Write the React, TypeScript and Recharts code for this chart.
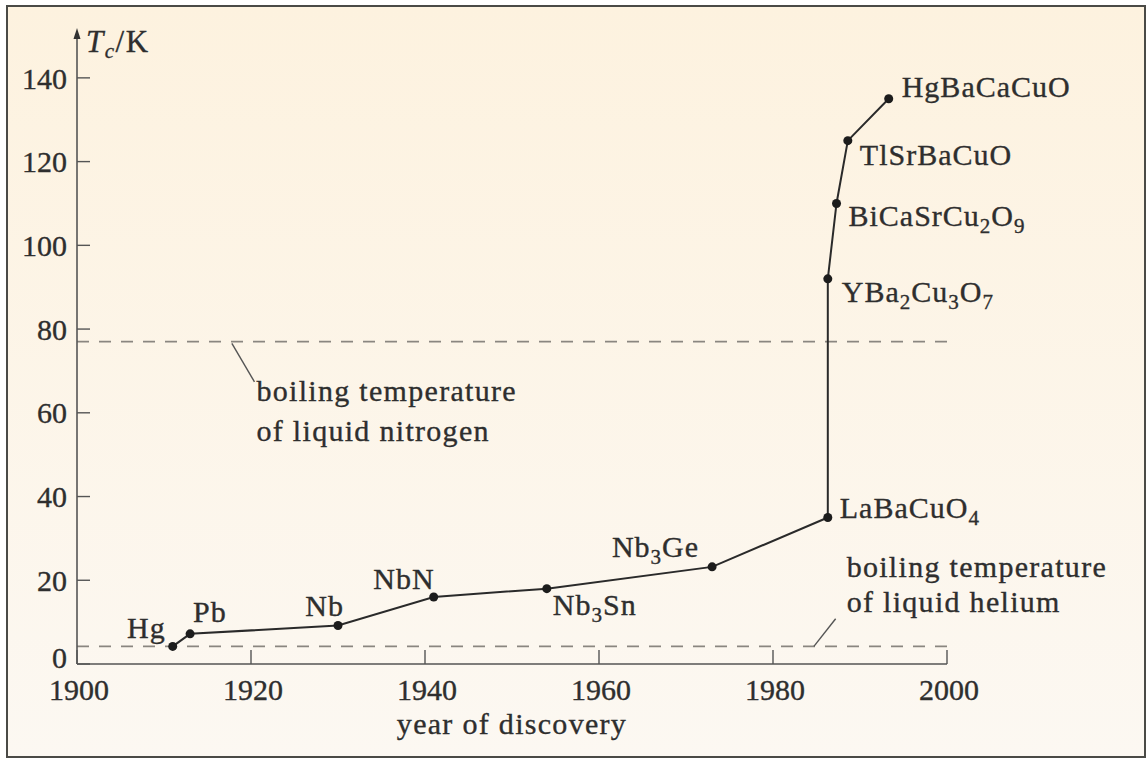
import { LineChart, Line, XAxis, YAxis, ReferenceLine, ReferenceDot } from "recharts";

// superconductors and the year each was found
const materials = [
    "Hg", "Pb", "Nb", "NbN", "Nb3Sn", "Nb3Ge",
    "LaBaCuO4", "YBa2Cu3O7", "BiCaSrCu2O9", "TlSrBaCuO", "HgBaCaCuO",
];
const discoveryYears = [1911, 1913, 1930, 1941, 1954, 1973, 1986.3, 1986.3, 1987.3, 1988.6, 1993.3];
const criticalTemps = [4.2, 7.2, 9.2, 16, 18, 23.2, 35, 92, 110, 125, 135];

const yearTicks = [1900, 1920, 1940, 1960, 1980, 2000];
const tempTicks = [0, 20, 40, 60, 80, 100, 120, 140];

const nitrogenBoiling = 77;
const heliumBoiling = 4.2;
const nitrogenNote = ["boiling temperature", "of liquid nitrogen"];
const heliumNote = ["boiling temperature", "of liquid helium"];

const FONT = "'Liberation Serif', 'DejaVu Serif', serif";
const INK = "#2e2e2e";
const THICK = 0.35; // the scan's letters are a little heavier than the font

// where each name sits relative to its dot
const labelPlacement: Record<string, { dx: number; dy: number; anchor: "start" | "end" }> = {
    Hg: { dx: -7, dy: -8, anchor: "end" },
    Pb: { dx: 3, dy: -12, anchor: "start" },
    Nb: { dx: 6, dy: -9, anchor: "end" },
    NbN: { dx: 1, dy: -8, anchor: "end" },
    Nb3Sn: { dx: 6, dy: 26, anchor: "start" },
    Nb3Ge: { dx: -13, dy: -10, anchor: "end" },
    LaBaCuO4: { dx: 12, dy: 1, anchor: "start" },
    YBa2Cu3O7: { dx: 14, dy: 23, anchor: "start" },
    BiCaSrCu2O9: { dx: 12, dy: 23, anchor: "start" },
    TlSrBaCuO: { dx: 12, dy: 24, anchor: "start" },
    HgBaCaCuO: { dx: 13, dy: -2, anchor: "start" },
};

const rows = materials.map((name, i) => ({
    name,
    year: discoveryYears[i],
    tc: criticalTemps[i],
}));

// chemical formula with digits as subscripts
const formulaParts = (text: string) => {
    const parts = text.match(/[A-Za-z]+|\d+/g) ?? [];
    let down = false;
    return parts.map((p, i) => {
        const isNum = /^\d+$/.test(p);
        let dy: number | undefined;
        if (isNum && !down) { dy = 7; down = true; }
        else if (!isNum && down) { dy = -7; down = false; }
        return (
            <tspan key={i} dy={dy} fontSize={isNum ? 21 : undefined}>{p}</tspan>
        );
    });
};

const textStyle = {
    fontFamily: FONT,
    fontSize: 30,
    fill: INK,
    stroke: INK,
    strokeWidth: THICK,
};

const renderDot = (props: any) => {
    const { cx, cy, payload, index } = props;
    const place = labelPlacement[payload.name];
    return (
        <g key={`dot-${index}`}>
            <circle cx={cx} cy={cy} r={4.5} fill="#1c1c1c" />
            <text
                x={cx + place.dx}
                y={cy + place.dy}
                textAnchor={place.anchor}
                letterSpacing={1}
                {...textStyle}
            >
                {formulaParts(payload.name)}
            </text>
        </g>
    );
};

const NoteText = ({ cx, cy, lines, dx, dy, gap }: any) => (
    <text letterSpacing={1.3} {...textStyle}>
        {lines.map((l: string, i: number) => (
            <tspan key={i} x={cx + dx} y={cy + dy + i * gap}>{l}</tspan>
        ))}
    </text>
);

const YTick = ({ x, y, payload }: any) => (
    <text x={x} y={payload.value === 0 ? y - 7 : y} dy="0.355em" textAnchor="end" {...textStyle}>
        {payload.value}
    </text>
);

const XTick = ({ x, y, payload }: any) => (
    <text x={x + 2} y={y} dy="0.71em" textAnchor="middle" {...textStyle}>
        {payload.value}
    </text>
);

const YTitle = (props: any) => {
    const { x, y, width } = props.viewBox;
    const ax = x + width;
    return (
        <g>
            <path d={`M${ax - 3.5},${y + 3} L${ax},${y - 8} L${ax + 3.5},${y + 3} Z`} fill="#333" />
            <text x={ax + 9} y={y + 16} letterSpacing={1.5} {...textStyle} fontSize={31}>
                <tspan fontStyle="italic">T</tspan>
                <tspan fontSize={21} dy={6} fontStyle="italic">c</tspan>
                <tspan dy={-6}>/K</tspan>
            </text>
        </g>
    );
};

const XTitle = (props: any) => {
    const { x, y, width } = props.viewBox;
    return (
        <text x={x + width / 2} y={y + 70} textAnchor="middle" letterSpacing={1.3} {...textStyle}>
            year of discovery
        </text>
    );
};

const App = () => {
    return (
        <div style={{ position: "absolute", left: 0, top: 0, width: 1148, height: 760, background: "#fff" }}>
            <div
                style={{
                    position: "absolute",
                    left: 6,
                    top: 5,
                    width: 1136,
                    height: 749,
                    border: "2px solid #4a4a46",
                    background: "linear-gradient(#fdf2df, #fcf8f2)",
                }}
            />
            <div style={{ position: "absolute", left: 0, top: 0 }}>
                <LineChart
                    width={1148}
                    height={760}
                    data={rows}
                    margin={{ top: 36, right: 201, bottom: 66, left: 17 }}
                >
                    <XAxis
                        dataKey="year"
                        type="number"
                        domain={[1900, 2000]}
                        ticks={yearTicks}
                        height={30}
                        tickSize={-14}
                        tickMargin={29}
                        axisLine={{ stroke: "#555", strokeWidth: 1.6 }}
                        tickLine={{ stroke: "#555", strokeWidth: 1.4 }}
                        tick={<XTick />}
                        label={<XTitle />}
                    />
                    <YAxis
                        type="number"
                        domain={[0, 150]}
                        ticks={tempTicks}
                        width={60}
                        tickSize={-13}
                        tickMargin={23}
                        axisLine={{ stroke: "#555", strokeWidth: 1.6 }}
                        tickLine={{ stroke: "#555", strokeWidth: 1.4 }}
                        tick={<YTick />}
                        label={<YTitle />}
                    />
                    <ReferenceLine y={nitrogenBoiling} stroke="#8a8680" strokeWidth={1.6} strokeDasharray="12 10" />
                    <ReferenceLine y={heliumBoiling} stroke="#8a8680" strokeWidth={1.6} strokeDasharray="12 10" />
                    <ReferenceLine
                        segment={[{ x: 1917.8, y: 76.6 }, { x: 1920.4, y: 67.4 }]}
                        stroke="#555"
                        strokeWidth={1.4}
                    />
                    <ReferenceLine
                        segment={[{ x: 1984.7, y: 4.2 }, { x: 1987.2, y: 10.8 }]}
                        stroke="#555"
                        strokeWidth={1.4}
                    />
                    <ReferenceDot
                        x={1920.4}
                        y={67.4}
                        r={0}
                        shape={(p: any) => <NoteText {...p} lines={nitrogenNote} dx={2} dy={19} gap={40} />}
                    />
                    <ReferenceDot
                        x={1987.2}
                        y={10.8}
                        r={0}
                        shape={(p: any) => <NoteText {...p} lines={heliumNote} dx={11} dy={-42} gap={35} />}
                    />
                    <Line
                        dataKey="tc"
                        type="linear"
                        stroke="#2a2a2a"
                        strokeWidth={2}
                        dot={renderDot}
                        activeDot={false}
                        isAnimationActive={false}
                    />
                </LineChart>
            </div>
        </div>
    );
};

export default App;
